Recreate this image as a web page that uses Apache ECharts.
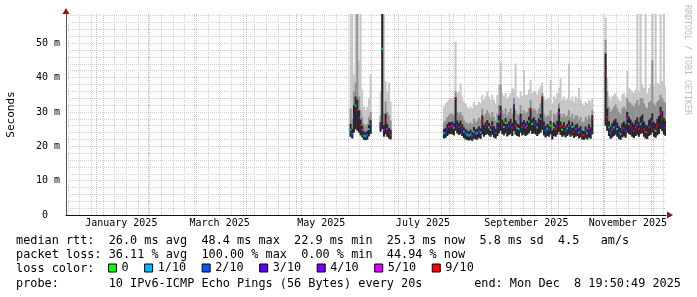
<!DOCTYPE html>
<html><head><meta charset="utf-8">
<script src="https://cdn.jsdelivr.net/npm/echarts@6/dist/echarts.min.js"></script>
<style>html,body{margin:0;padding:0;background:#fff}#c{width:697px;height:297px}</style>
</head><body><div id="c"></div>
<script>
const DAY = 86400000;
const FONT = '"DejaVu Sans Mono", monospace';
const endTime = Date.UTC(2025, 11, 8, 19, 50, 49);
const startTime = endTime - 360 * DAY;

// data segments (one value per day)
const segStarts = ['2025-06-02', '2025-06-20', '2025-07-28', '2025-11-02'];
const segLengths = [13, 7, 90, 37];

// median rtt (ms)
const median = [
  24.8, 23.6, 28.6, 31.8, 30.4, 28.2, 26.2, 24.8, 23.1, 22.9, 23.3, 25.0, 26.3,
  25.7, 48.4, 24.8, 27.5, 25.0, 24.0, 23.4,
  23.8, 24.0, 25.0, 25.6, 25.8,  25.9, 25.4, 33.8, 26.2, 25.5,  26.0, 25.2, 24.3, 23.8, 23.4,
  23.1, 23.5, 23.0, 24.2, 23.6,  23.8, 24.5, 24.0, 27.5, 24.8,  25.6, 26.3, 25.5, 24.8, 25.9,
  24.6, 23.9, 25.5, 27.2, 30.0,  26.4, 25.6, 26.8, 25.2, 25.8,  26.5, 25.4, 31.5, 26.0, 25.3,
  25.0, 28.1, 25.6, 26.2, 25.4,  26.0, 27.2, 30.6, 26.5, 27.0,  26.2, 25.5, 26.8, 28.0, 34.0,
  25.8, 24.6, 25.2, 24.8, 26.0,  23.4, 25.5, 25.0, 26.0, 29.6,  25.8, 24.8, 25.6, 24.5, 25.2,
  26.0, 24.8, 25.6, 24.2, 25.0,  25.2, 24.0, 24.6, 23.4, 23.2,  24.5, 23.8, 25.0, 24.2, 28.1,
  41.0, 28.5, 25.5, 24.0, 24.8, 25.5, 26.0, 25.0, 24.0, 23.5, 24.8, 25.2, 24.5, 28.0, 26.5,
  25.8, 25.0, 24.5, 25.5, 26.2, 25.0, 26.5, 27.0, 25.0, 24.2, 24.0, 25.5, 26.0, 27.2, 25.0,
  24.5, 25.8, 26.5, 29.6, 28.0, 26.0, 25.3
];
// loss bucket index (into lossLabels)
const lossIdx = [
  1, 2, 3, 1, 6, 4, 6, 5, 1, 1, 2, 1, 2,
  3, 1, 4, 6, 5, 3, 6,
  1, 2, 3, 6, 4,  5, 1, 6, 3, 2,  6, 4, 1, 2, 1,  1, 1, 2, 1, 5,  1, 2, 1, 6, 3,  4, 6, 0, 1, 5,
  3, 2, 4, 1, 5,  6, 1, 0, 3, 2,  4, 6, 2, 5, 1,  1, 3, 6, 2, 5,  5, 0, 6, 0, 2,  4, 1, 3, 1, 6,
  4, 2, 1, 2, 0,  3, 0, 6, 4, 5,  6, 0, 6, 2, 1,  5, 3, 1, 6, 2,  4, 1, 3, 6, 6,  2, 1, 5, 3, 6,
  6, 6, 1, 2, 5, 1, 3, 1, 2, 1, 6, 2, 4, 5, 1, 6, 3, 6, 2, 5, 6, 1, 4, 6, 5, 6, 2, 3, 5, 6,
  1, 6, 3, 5, 6, 3, 4
];
// lowest ping (ms)
const pingMin = [
  22.8, 22.3, 24.0, 25.0, 24.6, 24.0, 23.2, 22.6, 21.9, 21.8, 22.0, 22.9, 23.6,
  24.3, 25.0, 22.8, 23.5, 22.8, 22.3, 22.0,
  22.3, 22.5, 23.0, 23.5, 23.6,  23.5, 23.2, 24.5, 23.8, 23.3,  23.6, 23.0, 22.4, 22.0, 21.8,
  21.7, 21.9, 21.6, 22.3, 22.0,  22.0, 22.5, 22.2, 23.5, 22.8,  23.3, 23.6, 23.2, 22.8, 23.4,
  22.6, 22.3, 23.0, 23.8, 24.5,  23.6, 23.2, 23.8, 22.9, 23.3,  23.6, 23.0, 24.5, 23.4, 23.0,
  22.8, 24.0, 23.2, 23.5, 23.0,  23.4, 23.8, 24.5, 23.6, 23.8,  23.5, 23.0, 23.6, 24.0, 24.8,
  23.2, 22.6, 23.0, 22.8, 23.5,  22.0, 23.0, 22.8, 23.4, 24.2,  23.3, 22.8, 23.2, 22.6, 23.0,
  23.5, 22.8, 23.2, 22.4, 22.8,  23.0, 22.3, 22.6, 22.0, 21.9,  22.3, 22.0, 22.6, 22.2, 23.5,
  26.0, 24.5, 23.0, 22.2, 22.6, 23.0, 23.4, 22.8, 22.2, 21.9, 22.6, 22.9, 22.5, 24.0, 23.6,
  23.3, 22.8, 22.4, 23.0, 23.4, 22.8, 23.6, 23.8, 22.8, 22.3, 22.1, 23.0, 23.3, 24.0, 22.8,
  22.5, 23.2, 23.6, 25.0, 24.4, 23.4, 23.0
];
// top of the dark smoke band (ms)
const darkTop = [
  26.5, 25.0, 32.0, 34.5, 33.5, 30.5, 27.8, 26.0, 24.3, 24.0, 24.5, 26.2, 27.6,
  27.0, 58.5, 26.2, 29.5, 26.5, 25.3, 24.8,
  25.0, 25.3, 26.5, 27.0, 27.0,  27.2, 26.6, 34.3, 27.5, 26.8,  27.5, 26.4, 25.5, 25.0, 24.5,
  24.3, 24.8, 24.2, 25.6, 24.9,  25.1, 25.8, 25.2, 29.0, 26.2,  27.0, 27.6, 26.8, 26.0, 27.3,
  25.9, 25.1, 26.9, 29.0, 31.8,  27.8, 27.0, 28.2, 26.5, 27.2,  28.0, 26.8, 32.2, 27.5, 26.6,
  26.3, 29.5, 27.0, 27.6, 26.8,  27.4, 28.6, 31.2, 27.9, 28.4,  27.6, 26.9, 28.2, 29.4, 34.5,
  27.2, 25.9, 26.5, 26.1, 27.4,  24.6, 26.9, 26.3, 27.4, 31.0,  27.2, 26.1, 27.0, 25.8, 26.5,
  27.5, 26.1, 27.0, 25.5, 26.3,  26.6, 25.3, 25.9, 24.6, 24.4,  25.8, 25.1, 26.4, 25.5, 29.0,
  47.0, 31.0, 27.3, 25.8, 26.7, 27.5, 28.0, 26.9, 25.8, 25.3, 26.7, 27.2, 26.4, 30.0, 28.6,
  27.8, 27.0, 26.4, 27.6, 28.4, 27.0, 28.6, 29.2, 27.2, 26.3, 26.0, 27.6, 28.2, 29.6, 27.1,
  26.6, 28.0, 28.8, 31.5, 30.2, 28.2, 27.4
];
// top of the medium smoke band (ms)
const midTop = [
  31.0, 28.0, 36.0, 38.5, 58.5, 34.5, 30.5, 28.5, 26.5, 26.0, 26.5, 28.5, 30.0,
  29.0, 58.5, 29.5, 33.0, 30.0, 29.0, 27.5,
  27.0, 27.5, 28.5, 29.0, 29.5,  29.5, 29.0, 36.0, 30.0, 29.5,  30.0, 29.0, 27.8, 27.0, 26.8,
  26.5, 27.0, 26.5, 28.0, 27.0,  27.5, 28.3, 27.8, 31.0, 28.5,  29.5, 30.5, 29.5, 28.5, 30.0,
  28.5, 27.5, 29.5, 32.0, 38.0,  30.5, 29.5, 31.0, 29.0, 30.0,  31.0, 29.5, 34.0, 30.5, 29.5,
  29.0, 32.0, 29.5, 30.5, 29.5,  30.0, 31.0, 33.5, 30.5, 31.0,  30.5, 29.5, 31.0, 32.5, 35.5,
  29.5, 28.5, 29.0, 28.8, 30.5,  27.0, 29.5, 29.0, 30.0, 32.5,  29.5, 28.5, 29.5, 28.5, 29.0,
  30.5, 28.5, 29.5, 28.0, 29.0,  29.0, 27.8, 28.5, 27.2, 27.0,  28.5, 27.8, 29.0, 28.0, 30.5,
  51.0, 36.0, 31.5, 30.0, 30.8, 31.5, 32.2, 31.0, 30.0, 29.4, 31.0, 31.5, 30.8, 34.0, 33.0,
  32.5, 32.0, 31.5, 32.5, 33.5, 32.0, 34.0, 34.0, 32.5, 31.5, 31.0, 32.8, 33.2, 45.0, 32.5,
  31.8, 33.0, 33.5, 35.0, 34.0, 33.0, 32.5
];
// highest ping (ms)
const pingMax = [
  58.5, 58.5, 41.0, 58.5, 58.5, 45.0, 58.5, 36.5, 31.5, 30.5, 31.5, 34.0, 41.0,
  36.0, 58.5, 58.5, 39.0, 36.0, 38.5, 33.0,
  31.5, 32.5, 33.0, 33.5, 34.0,  34.0, 33.5, 50.5, 35.5, 36.0,  38.3, 34.5, 33.0, 32.5, 31.5,
  31.0, 31.5, 31.0, 33.0, 32.0,  32.0, 33.0, 32.5, 35.0, 33.5,  34.5, 36.0, 34.5, 33.5, 35.0,
  33.5, 32.5, 35.0, 38.0, 44.6,  35.5, 34.5, 35.5, 34.0, 34.5,  35.5, 37.0, 36.5, 44.1, 34.5,
  34.0, 36.0, 34.5, 42.2, 35.0,  35.0, 36.5, 39.3, 35.5, 36.0,  36.0, 35.0, 36.5, 37.5, 38.5,
  34.5, 33.5, 34.0, 34.0, 39.3,  32.5, 34.5, 34.0, 35.5, 37.0,  39.8, 33.5, 34.5, 33.5, 34.0,
  44.1, 33.5, 34.5, 33.0, 34.5,  34.0, 37.0, 33.5, 32.5, 32.0,  33.0, 32.5, 33.5, 33.0, 34.0,
  57.5, 40.0, 34.5, 33.5, 34.5, 35.0, 35.5, 34.5, 33.5, 33.0, 35.0, 35.5, 34.5, 42.0, 37.0,
  36.5, 36.0, 35.5, 36.5, 58.5, 36.0, 58.5, 38.0, 37.0, 58.5, 35.5, 37.0, 38.0, 58.5, 37.5,
  58.5, 38.5, 38.0, 58.5, 39.0, 58.5, 37.5
];

const lossLabels = ['0', '1/10', '2/10', '3/10', '4/10', '5/10', '9/10'];
const lossColors = ['#00ff00', '#00b8ff', '#0059ff', '#5e00ff', '#7e00ff', '#dd00ff', '#ff0000'];

const xLabelDates = ['2025-01-16', '2025-03-16', '2025-05-16', '2025-07-16', '2025-09-16', '2025-11-16'];
const xLabelTexts = ['January 2025', 'March 2025', 'May 2025', 'July 2025', 'September 2025', 'November 2025'];
const yLabelValues = [0, 10, 20, 30, 40, 50];
const yLabelTexts = ['0  ', '10 m', '20 m', '30 m', '40 m', '50 m'];

const legendLines = [
  'median rtt:  26.0 ms avg  48.4 ms max  22.9 ms min  25.3 ms now  5.8 ms sd  4.5   am/s',
  'packet loss: 36.11 % avg  100.00 % max  0.00 % min  44.94 % now'
];
const probeText = 'probe:       10 IPv6-ICMP Echo Pings (56 Bytes) every 20s';
const endText = 'end: Mon Dec  8 19:50:49 2025';

// ---- build ----
const times = [];
segStarts.forEach((s, k) => {
  const t0 = Date.parse(s + 'T00:00:00Z');
  for (let i = 0; i < segLengths[k]; i++) times.push(t0 + i * DAY);
});
const monthStarts = [];
for (let m = 0; m < 12; m++) monthStarts.push(Date.UTC(2025, m, 1));
const weekLines = [];
for (let t = Date.UTC(2024, 11, 15); t < endTime; t += 7 * DAY) weekLines.push(t);
const yMinor = [];
for (let v = 2; v <= 58; v += 2) yMinor.push(v);
const xLabelTimes = xLabelDates.map(s => Date.parse(s + 'T00:00:00Z'));

function bandSeries(loArr, hiArr, color, z) {
  return {
    type: 'custom', xAxisIndex: 0, yAxisIndex: 0, silent: true, clip: true, z: z,
    data: times.map((t, i) => [t, loArr[i], hiArr[i]]),
    encode: { x: 0, y: [1, 2] },
    renderItem: function (params, api) {
      const t = api.value(0);
      const a = api.coord([t, api.value(2)]);
      const b = api.coord([t + DAY, api.value(1)]);
      return { type: 'rect', shape: { x: a[0], y: a[1], width: b[0] - a[0] + 0.3, height: b[1] - a[1] },
               style: { fill: color } };
    }
  };
}
const series = [
  bandSeries(pingMin, pingMax, '#c6c6c6', 2),
  bandSeries(pingMin, midTop, '#909090', 3),
  bandSeries(pingMin, darkTop, '#262626', 4)
];
lossLabels.forEach((name, k) => {
  series.push({
    type: 'custom', name: name, xAxisIndex: 0, yAxisIndex: 0, silent: true, clip: true, z: 6,
    itemStyle: { color: lossColors[k] },
    data: times.map((t, i) => [t, median[i], lossIdx[i]]).filter(d => d[2] === k),
    encode: { x: 0, y: 1 },
    renderItem: function (params, api) {
      const t = api.value(0);
      const a = api.coord([t, api.value(1)]);
      const b = api.coord([t + DAY, api.value(1)]);
      return { type: 'rect', shape: { x: a[0], y: a[1] - 1, width: b[0] - a[0], height: 2 },
               style: { fill: lossColors[k] } };
    }
  });
});

const LEG_FONT = '11.85px ' + FONT;
const chart = echarts.init(document.getElementById('c'), null, { renderer: 'canvas' });
chart.setOption({
  animation: false,
  backgroundColor: '#ffffff',
  grid: { left: 66, top: 14, width: 600, height: 201, containLabel: false, outerBoundsMode: 'none' },
  xAxis: [
    {
      type: 'value', min: startTime, max: endTime, position: 'bottom',
      axisLine: { show: true, onZero: false, lineStyle: { color: '#111', width: 1 } },
      axisTick: { show: false, customValues: monthStarts },
      splitLine: { show: true, lineStyle: { color: '#e8b0b0', width: 1, type: [1, 1] } },
      axisLabel: {
        customValues: xLabelTimes, margin: 3, color: '#000', fontFamily: FONT, fontSize: 10,
        formatter: function (v) {
          let best = 0;
          xLabelTimes.forEach((t, i) => { if (Math.abs(t - v) < Math.abs(xLabelTimes[best] - v)) best = i; });
          return xLabelTexts[best];
        }
      }
    },
    {
      type: 'value', min: startTime, max: endTime, position: 'bottom',
      axisLine: { show: true, onZero: false, symbol: ['none', 'triangle'], symbolSize: [7, 6], symbolOffset: [0, 4],
                  lineStyle: { color: '#8b1a1a', width: 0 } },
      axisTick: { show: false, customValues: weekLines },
      axisLabel: { show: false },
      splitLine: { show: true, lineStyle: { color: '#d0d0d0', width: 1, type: [1, 1] } }
    }
  ],
  yAxis: [
    {
      type: 'value', min: 0, max: 58.5, position: 'left',
      name: 'Seconds', nameLocation: 'middle', nameRotate: 90, nameGap: 49,
      nameTextStyle: { fontFamily: FONT, fontSize: 11, color: '#000' },
      axisLine: { show: true, lineStyle: { color: '#555', width: 1 } },
      axisTick: { show: false, customValues: [10, 20, 30, 40, 50] },
      splitLine: { show: true, lineStyle: { color: '#e8b0b0', width: 1, type: [1, 1] } },
      axisLabel: {
        customValues: yLabelValues, margin: 6, color: '#000', fontFamily: FONT, fontSize: 10,
        formatter: function (v) { const i = yLabelValues.indexOf(v); return i >= 0 ? yLabelTexts[i] : ''; }
      }
    },
    {
      type: 'value', min: 0, max: 58.5, position: 'left',
      axisLine: { show: true, symbol: ['none', 'triangle'], symbolSize: [7, 6], symbolOffset: [0, 3],
                  lineStyle: { color: '#8b1a1a', width: 0 } },
      axisTick: { show: false, customValues: yMinor },
      axisLabel: { show: false },
      splitLine: { show: true, lineStyle: { color: '#d0d0d0', width: 1, type: [1, 1] } }
    }
  ],
  legend: {
    data: lossLabels, left: 108, top: 262, padding: 0, icon: 'rect', itemWidth: 8, itemHeight: 8, itemGap: 15.5,
    selectedMode: false, itemStyle: { borderColor: '#000', borderWidth: 1 },
    textStyle: { fontFamily: FONT, fontSize: 11.85, color: '#000' }
  },
  graphic: [
    { type: 'text', x: 16, y: 241, silent: true, style: { text: legendLines[0], font: LEG_FONT, fill: '#000', verticalAlign: 'middle' } },
    { type: 'text', x: 16, y: 255, silent: true, style: { text: legendLines[1], font: LEG_FONT, fill: '#000', verticalAlign: 'middle' } },
    { type: 'text', x: 16, y: 269, silent: true, style: { text: 'loss color:', font: LEG_FONT, fill: '#000', verticalAlign: 'middle' } },
    { type: 'text', x: 16, y: 284, silent: true, style: { text: probeText, font: LEG_FONT, fill: '#000', verticalAlign: 'middle' } },
    { type: 'text', x: 681, y: 284, silent: true, style: { text: endText, font: LEG_FONT, fill: '#000', align: 'right', verticalAlign: 'middle' } },
    { type: 'text', x: 687, y: 5, rotation: -Math.PI / 2, silent: true, style: { text: 'RRDTOOL / TOBI OETIKER', font: '8.3px ' + FONT, fill: '#bdbdbd', align: 'left', verticalAlign: 'middle' } }
  ],
  series: series
});
</script>
</body></html>
